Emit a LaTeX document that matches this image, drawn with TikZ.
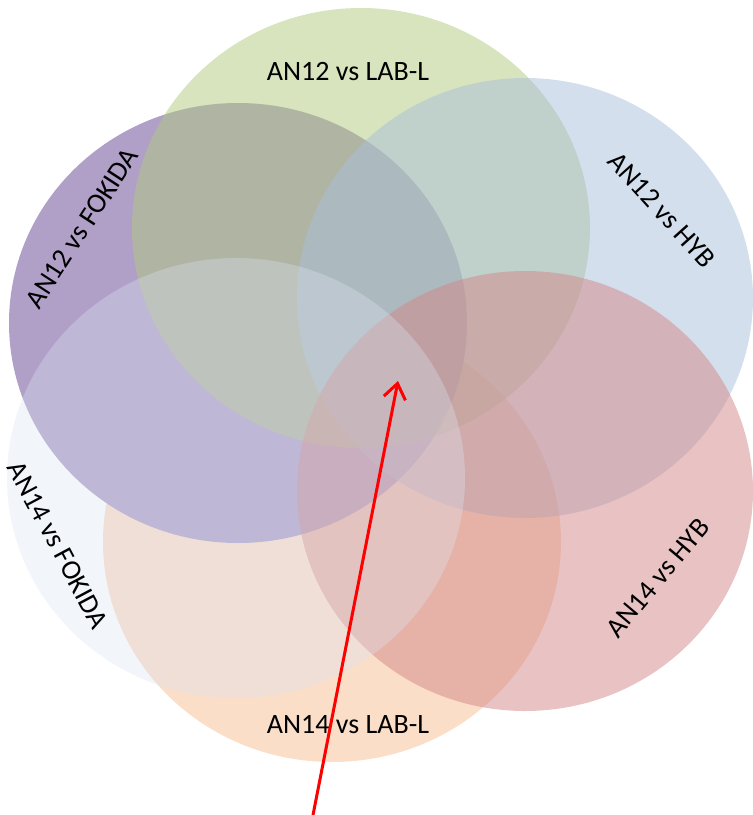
\documentclass[tikz,border=0pt]{standalone}
\usepackage{fontspec}
\setmainfont{Carlito}
\usetikzlibrary{arrows.meta}

\definecolor{lab green}{RGB}{177,201,125}
\definecolor{hyb blue}{RGB}{169,191,219}
\definecolor{hyb red}{RGB}{211,135,135}
\definecolor{lab orange}{RGB}{245,189,145}
\definecolor{fokida purple}{RGB}{176,160,200}
\definecolor{fokida light}{RGB}{218,226,241}

\begin{document}
\begin{tikzpicture}[x=1pt, y=-1pt]% venn
            \tikzstyle{set} = [fill={#1}, fill opacity=0.5]
            \tikzstyle{set name} = [font=\fontsize{28}{34}\selectfont, inner sep=0pt]
            \tikzstyle{pointer} = [red, line width=3pt, -{Straight Barb[length=15pt, width=22pt]}]
            \useasboundingbox (0, 0) rectangle (753, 815);
            \fill[set=lab orange] (332, 542) ellipse [x radius=229pt, y radius=220pt];
            \fill[set=fokida purple, fill opacity=1] (238, 323) ellipse [x radius=229pt, y radius=220pt];
            \fill[set=lab green] (361, 228) ellipse [x radius=229pt, y radius=220pt];
            \fill[set=hyb blue] (525, 298) ellipse [x radius=228pt, y radius=220pt];
            \fill[set=hyb red] (525, 491) ellipse [x radius=228pt, y radius=220pt];
            \fill[set=fokida light, fill opacity=0.35] (236, 478) ellipse [x radius=229pt, y radius=220pt];
            \node[set name] (an12 lab) at (348, 72) {AN12 vs LAB-L};
            \node[set name, rotate=-48] (an12 hyb) at (662, 210) {AN12 vs HYB};
            \node[set name, rotate=50] (an14 hyb) at (658, 578) {AN14 vs HYB};
            \node[set name] (an14 lab) at (348, 725) {AN14 vs LAB-L};
            \node[set name, rotate=-62] (an14 fokida) at (58, 545) {AN14 vs FOKIDA};
            \node[set name, rotate=57] (an12 fokida) at (82, 228) {AN12 vs FOKIDA};
            \coordinate (pointer start) at (313, 815);
            \coordinate (pointer tip) at (398, 381);
            \draw[pointer] (pointer start) -- (pointer tip);
        \end{tikzpicture}
\end{document}
